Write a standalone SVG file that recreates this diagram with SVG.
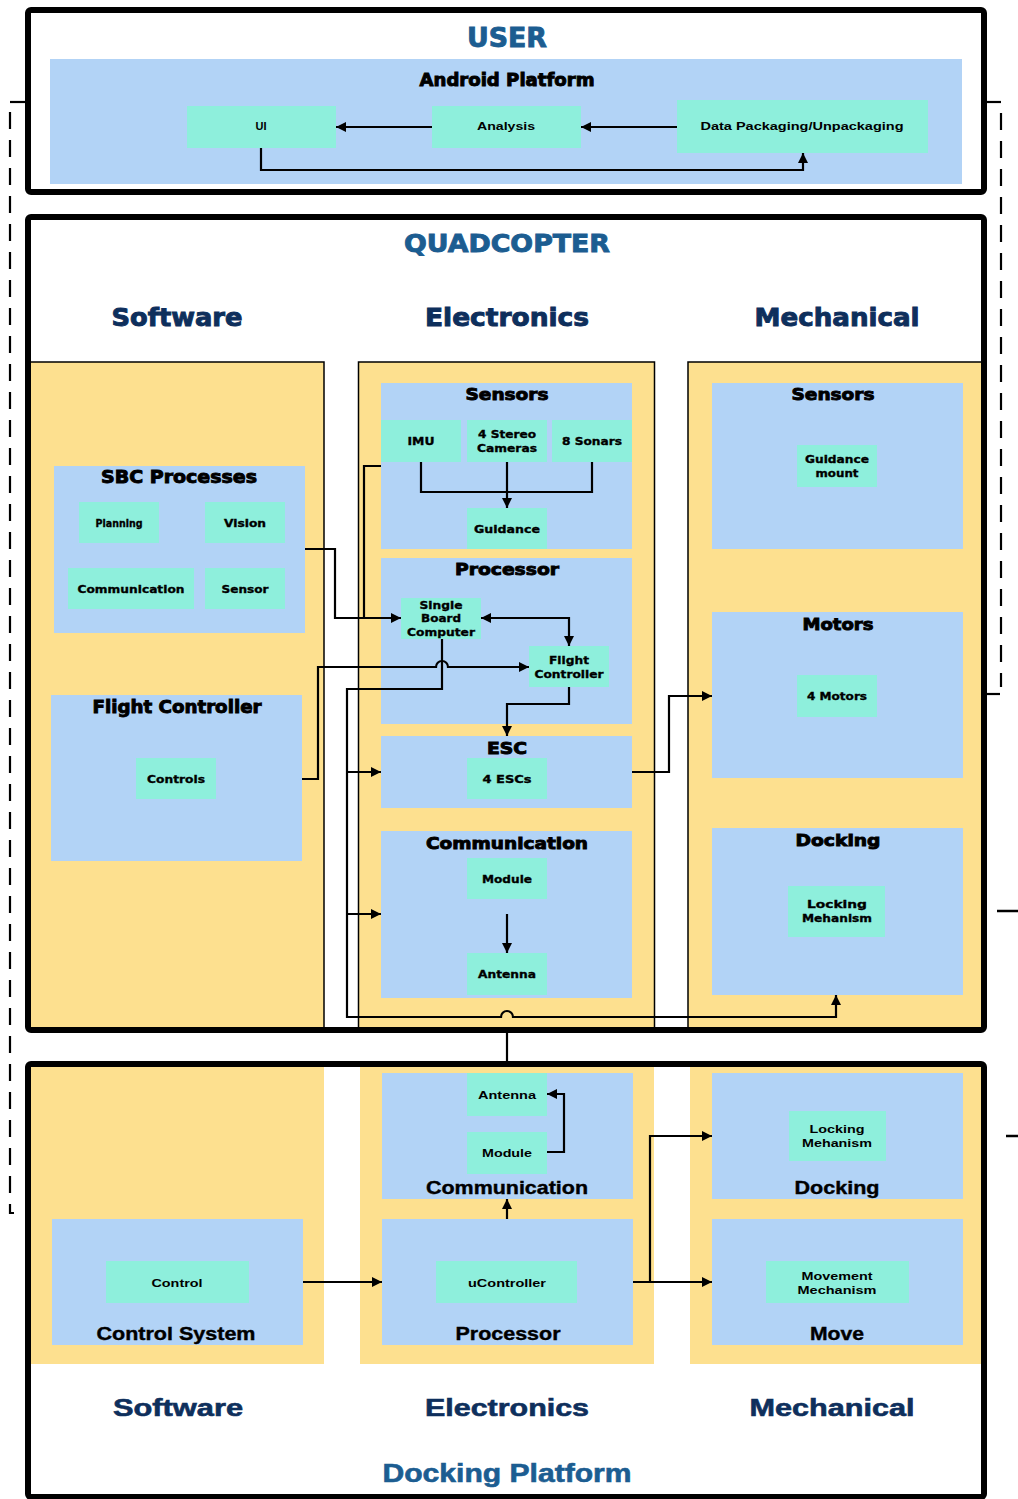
<svg xmlns="http://www.w3.org/2000/svg" width="1018" height="1499" viewBox="0 0 1018 1499">
<style>
.bg{fill:#ffffff}
.fr{fill:none;stroke:#000;stroke-width:6}
.yl{fill:#fde08f}
.ylb{fill:#fde08f;stroke:#000;stroke-width:1.5}
.bl{fill:#b2d3f6}
.gr{fill:#8eefdc}
.ln{fill:none;stroke:#000;stroke-width:2.2}
.ar{fill:none;stroke:#000;stroke-width:2.2;marker-end:url(#ah)}
.dash{fill:none;stroke:#000;stroke-width:2.2;stroke-dasharray:17 11}
text{text-anchor:middle;dominant-baseline:central}
.hv{font-family:"DejaVu Sans","Liberation Sans",sans-serif;font-weight:bold;stroke:#000;stroke-width:0.9}
.nr{font-family:"Liberation Sans","Arial",sans-serif;font-weight:bold}
.t1{fill:#1c5d91;stroke:#1c5d91}
.t2{fill:#0e2f5c;stroke:#0e2f5c}
.s{font-size:11px;fill:#000;stroke-width:0.35}
.m{font-size:16px;fill:#000}
.nm{font-size:19px;fill:#000;stroke:#000;stroke-width:0.4}
.big{font-size:24px}
</style>
<defs>
<marker id="ah" viewBox="0 0 10 10" refX="10" refY="5" markerWidth="11" markerHeight="10" markerUnits="userSpaceOnUse" orient="auto-start-reverse"><path d="M0,0 L10,5 L0,10 z" fill="#000"/></marker>
</defs>

<g id="outer-dashes">
<path class="ln" d="M27,102 H10"/>
<path class="dash" d="M10,112 V1213 H14"/>
<path class="ln" d="M985,102 H1001"/>
<path class="dash" d="M1001,113 V687"/>
<path class="ln" d="M985,694 H1000"/>
<path class="ln" d="M997,911 H1018" style="stroke-width:2.5"/>
<path class="ln" d="M1006,1136 H1018" style="stroke-width:2.5"/>
</g>

<g id="user">
<rect class="bg" x="28" y="10" width="956" height="182" rx="3"/>
<text class="hv t1" x="507" y="38" font-size="26" textLength="80" lengthAdjust="spacingAndGlyphs">USER</text>
<g id="android-platform">
<rect class="bl" x="50" y="59" width="912" height="125"/>
<text class="hv" x="507" y="80" font-size="17" textLength="175" lengthAdjust="spacingAndGlyphs">Android Platform</text>
</g>
<g id="ui"><rect class="gr" x="187" y="106" width="149" height="42"/><text class="nr s" x="261" y="126" font-size="12">UI</text></g>
<g id="analysis"><rect class="gr" x="432" y="106" width="149" height="42"/><text class="nr s" x="506" y="126" font-size="12" textLength="58" lengthAdjust="spacingAndGlyphs">Analysis</text></g>
<g id="data-packaging"><rect class="gr" x="677" y="100" width="251" height="53"/><text class="nr s" x="802" y="126" font-size="12" textLength="203" lengthAdjust="spacingAndGlyphs">Data Packaging/Unpackaging</text></g>
<rect class="fr" x="28" y="10" width="956" height="182" rx="3"/>
</g>

<g id="quadcopter">
<rect class="bg" x="28" y="217" width="956" height="813" rx="3"/>
<text class="hv t1" x="507" y="244" font-size="24" textLength="206" lengthAdjust="spacingAndGlyphs">QUADCOPTER</text>
<text class="hv t2 big" x="177" y="318" textLength="131" lengthAdjust="spacingAndGlyphs">Software</text>
<text class="hv t2 big" x="507" y="318" textLength="164" lengthAdjust="spacingAndGlyphs">Electronics</text>
<text class="hv t2 big" x="837" y="318" textLength="165" lengthAdjust="spacingAndGlyphs">Mechanical</text>
<rect class="ylb" x="30" y="362" width="294" height="668"/>
<rect class="ylb" x="358.5" y="362" width="296" height="668"/>
<rect class="ylb" x="688" y="362" width="296" height="668"/>
</g>

<g id="sbc-processes">
<rect class="bl" x="54" y="466" width="251" height="167"/>
<text class="hv" x="179" y="477" font-size="17" textLength="156" lengthAdjust="spacingAndGlyphs">SBC Processes</text>
<rect class="gr" x="79" y="502" width="80" height="41"/><text class="hv s" x="119" y="523" textLength="47" lengthAdjust="spacingAndGlyphs">Planning</text>
<rect class="gr" x="205" y="502" width="80" height="41"/><text class="hv s" x="245" y="523" textLength="42" lengthAdjust="spacingAndGlyphs">Vision</text>
<rect class="gr" x="68" y="568" width="126" height="41"/><text class="hv s" x="131" y="589" textLength="107" lengthAdjust="spacingAndGlyphs">Communication</text>
<rect class="gr" x="205" y="568" width="80" height="41"/><text class="hv s" x="245" y="589" textLength="47" lengthAdjust="spacingAndGlyphs">Sensor</text>
</g>
<g id="sw-flight-controller">
<rect class="bl" x="51" y="695" width="251" height="166"/>
<text class="hv" x="177" y="707" font-size="17" textLength="169" lengthAdjust="spacingAndGlyphs">Flight Controller</text>
<rect class="gr" x="136" y="758" width="80" height="41"/><text class="hv s" x="176" y="779" textLength="58" lengthAdjust="spacingAndGlyphs">Controls</text>
</g>

<g id="el-sensors">
<rect class="bl" x="381" y="383" width="251" height="166"/>
<text class="hv m" x="507" y="394" textLength="83" lengthAdjust="spacingAndGlyphs">Sensors</text>
<rect class="gr" x="381" y="420" width="80" height="42"/><text class="hv s" x="421" y="441" textLength="27" lengthAdjust="spacingAndGlyphs">IMU</text>
<rect class="gr" x="467" y="420" width="80" height="42"/><text class="hv s" x="507" y="434" textLength="58" lengthAdjust="spacingAndGlyphs">4 Stereo</text><text class="hv s" x="507" y="448" textLength="60" lengthAdjust="spacingAndGlyphs">Cameras</text>
<rect class="gr" x="552" y="420" width="80" height="42"/><text class="hv s" x="592" y="441" textLength="60" lengthAdjust="spacingAndGlyphs">8 Sonars</text>
<rect class="gr" x="467" y="508" width="80" height="41"/><text class="hv s" x="507" y="529" textLength="66" lengthAdjust="spacingAndGlyphs">Guidance</text>
</g>
<g id="el-processor">
<rect class="bl" x="381" y="558" width="251" height="166"/>
<text class="hv m" x="507" y="569" textLength="104" lengthAdjust="spacingAndGlyphs">Processor</text>
<rect class="gr" x="401" y="598" width="80" height="41"/><text class="hv s" x="441" y="605" textLength="43" lengthAdjust="spacingAndGlyphs">Single</text><text class="hv s" x="441" y="618" textLength="40" lengthAdjust="spacingAndGlyphs">Board</text><text class="hv s" x="441" y="632" textLength="68" lengthAdjust="spacingAndGlyphs">Computer</text>
<rect class="gr" x="529" y="646" width="80" height="41"/><text class="hv s" x="569" y="660" textLength="40" lengthAdjust="spacingAndGlyphs">Flight</text><text class="hv s" x="569" y="674" textLength="69" lengthAdjust="spacingAndGlyphs">Controller</text>
</g>
<g id="el-esc">
<rect class="bl" x="381" y="736" width="251" height="72"/>
<text class="hv m" x="507" y="748" textLength="40" lengthAdjust="spacingAndGlyphs">ESC</text>
<rect class="gr" x="467" y="758" width="80" height="41"/><text class="hv s" x="507" y="779" textLength="49" lengthAdjust="spacingAndGlyphs">4 ESCs</text>
</g>
<g id="el-communication">
<rect class="bl" x="381" y="831" width="251" height="167"/>
<text class="hv m" x="507" y="843" textLength="162" lengthAdjust="spacingAndGlyphs">Communication</text>
<rect class="gr" x="467" y="858" width="80" height="41"/><text class="hv s" x="507" y="879" textLength="50" lengthAdjust="spacingAndGlyphs">Module</text>
<rect class="gr" x="467" y="953" width="80" height="42"/><text class="hv s" x="507" y="974" textLength="58" lengthAdjust="spacingAndGlyphs">Antenna</text>
</g>

<g id="me-sensors">
<rect class="bl" x="712" y="383" width="251" height="166"/>
<text class="hv m" x="833" y="394" textLength="83" lengthAdjust="spacingAndGlyphs">Sensors</text>
<rect class="gr" x="797" y="445" width="80" height="42"/><text class="hv s" x="837" y="459" textLength="64" lengthAdjust="spacingAndGlyphs">Guidance</text><text class="hv s" x="837" y="473" textLength="43" lengthAdjust="spacingAndGlyphs">mount</text>
</g>
<g id="me-motors">
<rect class="bl" x="712" y="612" width="251" height="166"/>
<text class="hv m" x="838" y="624" textLength="71" lengthAdjust="spacingAndGlyphs">Motors</text>
<rect class="gr" x="797" y="675" width="80" height="42"/><text class="hv s" x="837" y="696" textLength="60" lengthAdjust="spacingAndGlyphs">4 Motors</text>
</g>
<g id="me-docking">
<rect class="bl" x="712" y="828" width="251" height="167"/>
<text class="hv m" x="838" y="840" textLength="85" lengthAdjust="spacingAndGlyphs">Docking</text>
<rect class="gr" x="788" y="886" width="97" height="51"/><text class="hv s" x="837" y="904" textLength="60" lengthAdjust="spacingAndGlyphs">Locking</text><text class="hv s" x="837" y="918" textLength="70" lengthAdjust="spacingAndGlyphs">Mehanism</text>
</g>

<g id="docking-platform">
<rect class="bg" x="28" y="1064" width="956" height="433" rx="3"/>
<rect class="yl" x="31" y="1066" width="293" height="298"/>
<rect class="yl" x="360" y="1066" width="294" height="298"/>
<rect class="yl" x="690" y="1066" width="292" height="298"/>
<text class="nr t2 big" x="178" y="1407" font-size="25" stroke-width="0.6" textLength="130" lengthAdjust="spacingAndGlyphs">Software</text>
<text class="nr t2 big" x="507" y="1407" font-size="25" stroke-width="0.6" textLength="164" lengthAdjust="spacingAndGlyphs">Electronics</text>
<text class="nr t2 big" x="832" y="1407" font-size="25" stroke-width="0.6" textLength="165" lengthAdjust="spacingAndGlyphs">Mechanical</text>
<text class="nr t1" x="507" y="1473" font-size="25" stroke-width="0.6" textLength="249" lengthAdjust="spacingAndGlyphs">Docking Platform</text>
</g>
<g id="dp-communication">
<rect class="bl" x="382" y="1073" width="251" height="126"/>
<rect class="gr" x="467" y="1073" width="80" height="43"/><text class="nr s" x="507" y="1095" font-size="12" textLength="58" lengthAdjust="spacingAndGlyphs">Antenna</text>
<rect class="gr" x="467" y="1132" width="80" height="42"/><text class="nr s" x="507" y="1153" font-size="12" textLength="50" lengthAdjust="spacingAndGlyphs">Module</text>
<text class="nr nm" x="507" y="1187" textLength="162" lengthAdjust="spacingAndGlyphs">Communication</text>
</g>
<g id="dp-processor">
<rect class="bl" x="382" y="1219" width="251" height="126"/>
<rect class="gr" x="436" y="1261" width="141" height="42"/><text class="nr s" x="507" y="1283" font-size="12" textLength="78" lengthAdjust="spacingAndGlyphs">uController</text>
<text class="nr nm" x="508" y="1333" textLength="105" lengthAdjust="spacingAndGlyphs">Processor</text>
</g>
<g id="dp-control-system">
<rect class="bl" x="52" y="1219" width="251" height="126"/>
<rect class="gr" x="106" y="1261" width="143" height="42"/><text class="nr s" x="177" y="1283" font-size="12" textLength="51" lengthAdjust="spacingAndGlyphs">Control</text>
<text class="nr nm" x="176" y="1333" textLength="159" lengthAdjust="spacingAndGlyphs">Control System</text>
</g>
<g id="dp-docking">
<rect class="bl" x="712" y="1073" width="251" height="126"/>
<rect class="gr" x="789" y="1111" width="97" height="50"/><text class="nr s" x="837" y="1129" font-size="12" textLength="55" lengthAdjust="spacingAndGlyphs">Locking</text><text class="nr s" x="837" y="1143" font-size="12" textLength="70" lengthAdjust="spacingAndGlyphs">Mehanism</text>
<text class="nr nm" x="837" y="1187" textLength="85" lengthAdjust="spacingAndGlyphs">Docking</text>
</g>
<g id="dp-move">
<rect class="bl" x="712" y="1219" width="251" height="126"/>
<rect class="gr" x="766" y="1261" width="143" height="42"/><text class="nr s" x="837" y="1276" font-size="12" textLength="71" lengthAdjust="spacingAndGlyphs">Movement</text><text class="nr s" x="837" y="1290" font-size="12" textLength="79" lengthAdjust="spacingAndGlyphs">Mechanism</text>
<text class="nr nm" x="837" y="1333" textLength="54" lengthAdjust="spacingAndGlyphs">Move</text>
</g>

<g id="connectors">
<path class="ar" d="M432,127 H336"/>
<path class="ar" d="M677,127 H581"/>
<path class="ar" d="M261,148 V170 H803 V153"/>
<path class="ar" d="M305,549 H335 V618 H401"/>
<path class="ln" d="M381,466 H364 V618"/>
<path class="ar" style="marker-start:url(#ah)" d="M481,618 H569 V646"/>
<path class="ar" d="M302,779 H318 V667 H436 A6,6 0 0 1 448,667 H529"/>
<path class="ar" d="M442,639 V689 H347 V1017 H501 A6,6 0 0 1 513,1017 H836 V995"/>
<path class="ar" d="M347,772 H381"/>
<path class="ar" d="M347,914 H381"/>
<path class="ln" d="M421,462 V492 H592 V462"/>
<path class="ar" d="M507,462 V508"/>
<path class="ar" d="M569,687 V704 H507 V736"/>
<path class="ar" d="M632,772 H669 V696 H712"/>
<path class="ar" d="M507,914 V953"/>
<path class="ln" d="M507,1030 V1064"/>
<path class="ar" d="M547,1152 H564 V1094 H547"/>
<path class="ar" d="M507,1219 V1199"/>
<path class="ar" d="M303,1282 H382"/>
<path class="ar" d="M633,1282 H712"/>
<path class="ar" d="M650,1282 V1136 H712"/>
</g>

<g id="frames">
<rect class="fr" x="28" y="217" width="956" height="813" rx="3"/>
<rect class="fr" x="28" y="1064" width="956" height="433" rx="3"/>
</g>
</svg>
